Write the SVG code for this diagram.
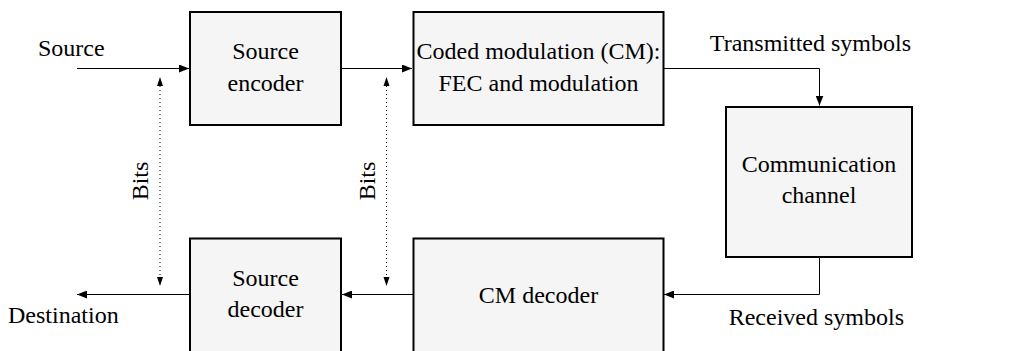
<svg xmlns="http://www.w3.org/2000/svg" width="1033" height="351" viewBox="0 0 1033 351" font-family="Liberation Serif, DejaVu Serif, serif" font-size="24">
  <style>
    .box { fill: #f5f5f5; stroke: #000; stroke-width: 2; }
    .mid { text-anchor: middle; }
    .wire { fill: none; stroke: #000; stroke-width: 1; }
    .dots { fill: none; stroke: #000; stroke-width: 1; stroke-dasharray: 1 3; }
  </style>
  <defs>
    <marker id="arrow" viewBox="0 0 10 8" refX="10" refY="4" markerWidth="10" markerHeight="8" markerUnits="userSpaceOnUse" orient="auto">
      <path d="M0,0 L10,4 L0,8 Z" fill="#000"/>
    </marker>
  </defs>

  <!-- connectors -->
  <g id="connectors">
    <line class="wire" x1="77" y1="68.5" x2="189" y2="68.5" marker-end="url(#arrow)"/>
    <line class="wire" x1="341" y1="68.5" x2="412" y2="68.5" marker-end="url(#arrow)"/>
    <polyline class="wire" points="664,68.5 819.5,68.5 819.5,105.5" marker-end="url(#arrow)"/>
    <polyline class="wire" points="819.5,257 819.5,294.5 664,294.5" marker-end="url(#arrow)"/>
    <line class="wire" x1="413" y1="294.5" x2="342" y2="294.5" marker-end="url(#arrow)"/>
    <line class="wire" x1="190" y1="294.5" x2="77" y2="294.5" marker-end="url(#arrow)"/>
    <!-- bit-level links between the source coder pair -->
    <line class="dots" x1="160" y1="86" x2="160" y2="277"/>
    <path d="M160,77 L163,86 L157,86 Z" fill="#000"/>
    <path d="M160,286 L163,277 L157,277 Z" fill="#000"/>
    <line class="dots" x1="386.5" y1="86" x2="386.5" y2="277"/>
    <path d="M386.5,77 L389.5,86 L383.5,86 Z" fill="#000"/>
    <path d="M386.5,286 L389.5,277 L383.5,277 Z" fill="#000"/>
    <text transform="translate(148,181) rotate(-90)" class="mid">Bits</text>
    <text transform="translate(374.5,181) rotate(-90)" class="mid">Bits</text>
    <text x="38" y="56">Source</text>
    <text x="8" y="323">Destination</text>
    <text x="911" y="51" text-anchor="end">Transmitted symbols</text>
    <text x="904" y="325" text-anchor="end">Received symbols</text>
  </g>

  <g id="source-encoder">
    <rect class="box" x="190" y="12" width="151" height="113"/>
    <text class="mid" x="265.5" y="59">Source</text>
    <text class="mid" x="265.5" y="91">encoder</text>
  </g>

  <g id="cm-encoder">
    <rect class="box" x="413.5" y="12" width="250" height="113"/>
    <text class="mid" x="538.5" y="59">Coded modulation (CM):</text>
    <text class="mid" x="538.5" y="91">FEC and modulation</text>
  </g>

  <g id="channel">
    <rect class="box" x="726" y="107" width="186" height="150"/>
    <text class="mid" x="819" y="171.5">Communication</text>
    <text class="mid" x="819" y="203">channel</text>
  </g>

  <g id="cm-decoder">
    <rect class="box" x="413.5" y="238.5" width="250" height="114"/>
    <text class="mid" x="538.5" y="303">CM decoder</text>
  </g>

  <g id="source-decoder">
    <rect class="box" x="190" y="238.5" width="151" height="114"/>
    <text class="mid" x="265.5" y="286">Source</text>
    <text class="mid" x="265.5" y="317">decoder</text>
  </g>
</svg>
